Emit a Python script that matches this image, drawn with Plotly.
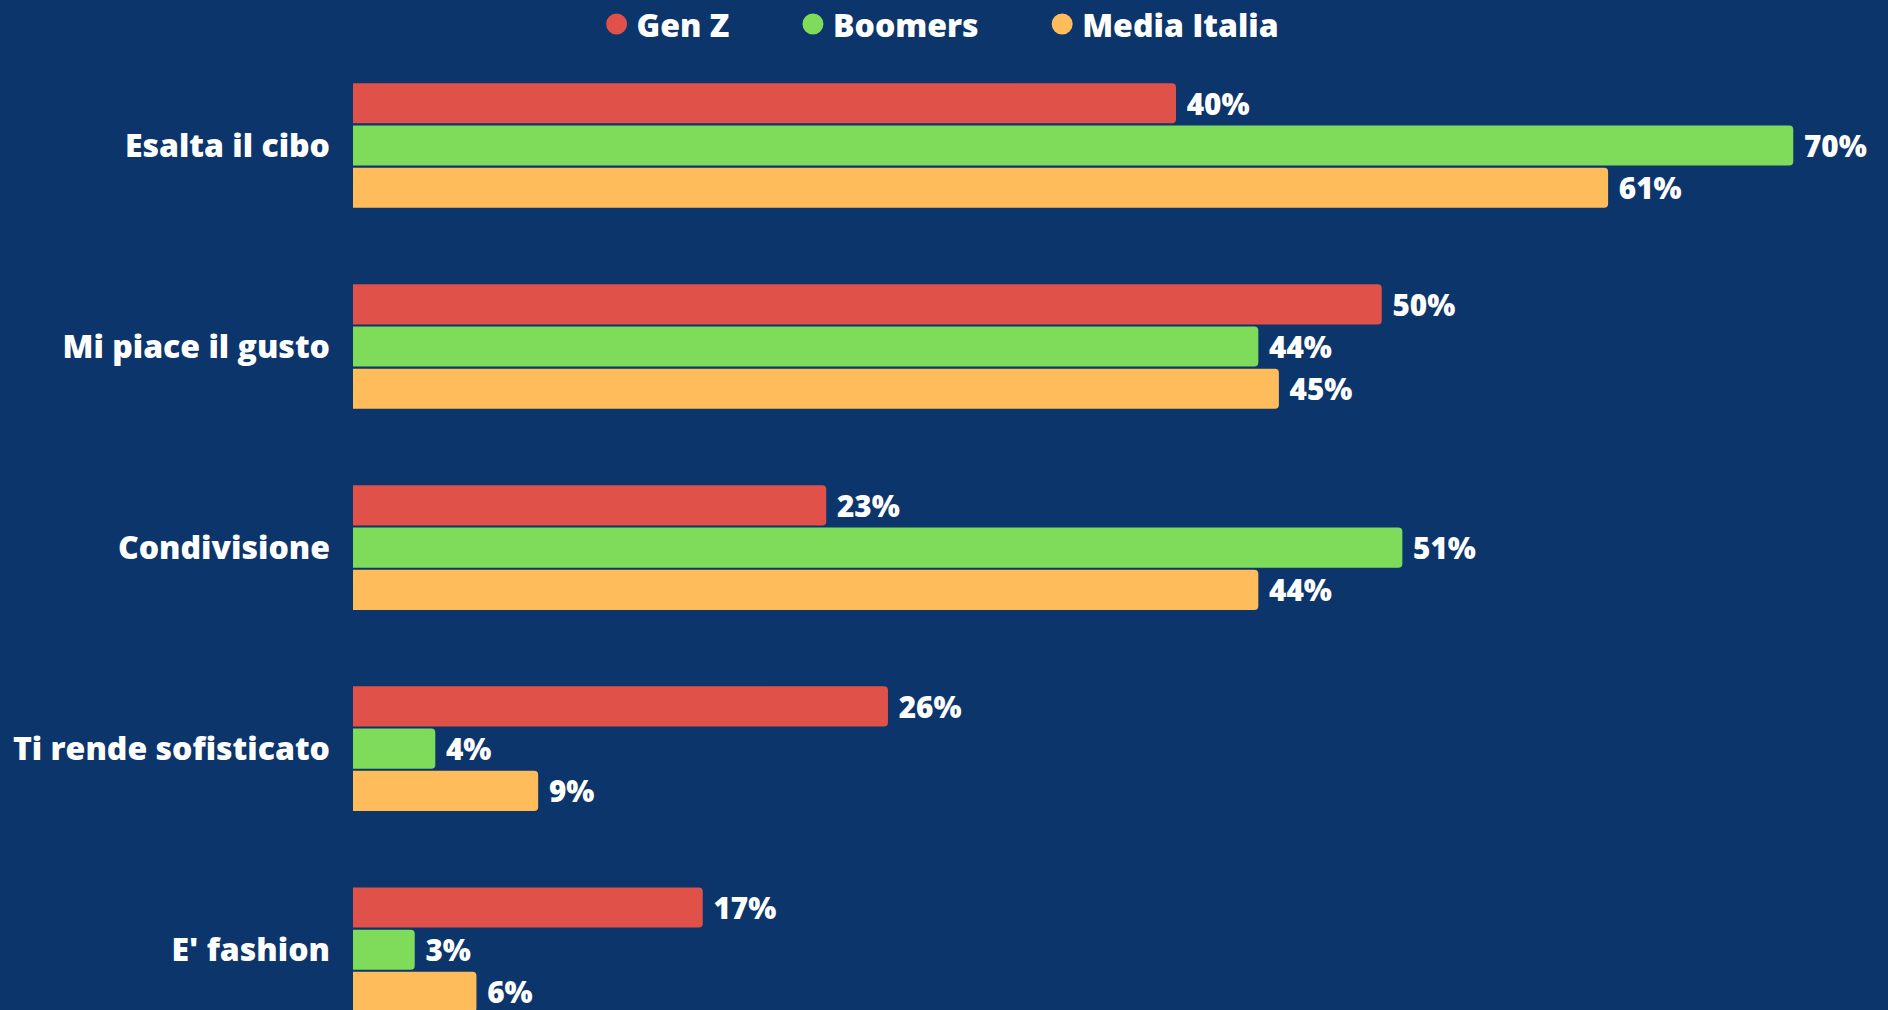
import plotly.graph_objects as go

categories = ["Esalta il cibo", "Mi piace il gusto", "Condivisione", "Ti rende sofisticato", "E' fashion"]
gen_z = [40, 50, 23, 26, 17]
boomers = [70, 44, 51, 4, 3]
media_italia = [61, 45, 44, 9, 6]

series = [
    ("Gen Z", gen_z, "#E05149", "legend", 0.316),
    ("Boomers", boomers, "#7FDB5A", "legend2", 0.420),
    ("Media Italia", media_italia, "#FEBC5A", "legend3", 0.552),
]

BG = "#0C356B"
FONT = "Open Sans"
FW = 800

fig = go.Figure()
legends = {}
for name, vals, col, lg, lx in series:
    fig.add_trace(go.Bar(
        y=categories, x=vals, orientation="h", name=name,
        marker=dict(color=col, cornerradius=4, line=dict(width=0)),
        texttemplate=" %{x}%", textposition="outside", cliponaxis=False,
        textfont=dict(family=FONT, size=34, color="white", weight=FW),
        showlegend=False,
    ))
    fig.add_trace(go.Scatter(
        x=[None], y=[None], mode="markers", name=name,
        marker=dict(color=col, size=16, symbol="circle", line=dict(color=col, width=6)),
        showlegend=True, legend=lg,
    ))
    legends[lg] = dict(orientation="h", xref="container", yref="container",
                       x=lx, xanchor="left", y=0.976, yanchor="middle",
                       font=dict(family=FONT, size=32, color="white", weight=FW),
                       itemsizing="trace", bgcolor="rgba(0,0,0,0)")

fig.update_layout(
    width=1888, height=1010,
    paper_bgcolor=BG, plot_bgcolor=BG,
    barmode="group", bargap=0.37, bargroupgap=0.05,
    margin=dict(l=353, r=33, t=45, b=0, autoexpand=False),
    font=dict(family=FONT, size=32, color="white", weight=FW),
    xaxis=dict(range=[0, 73], showgrid=False, zeroline=False,
               showticklabels=False, showline=False),
    yaxis=dict(type="category", categoryarray=categories, categoryorder="array",
               range=[4.30, -0.5], autorange=False, showgrid=False,
               zeroline=False, showline=False, ticks="", ticklabelstandoff=22,
               tickfont=dict(family=FONT, size=32, color="white", weight=FW)),
    **legends,
)

fig.write_html("out.html", config={"displayModeBar": False},
               post_script="document.body.style.margin='0';document.body.style.overflow='hidden';")
